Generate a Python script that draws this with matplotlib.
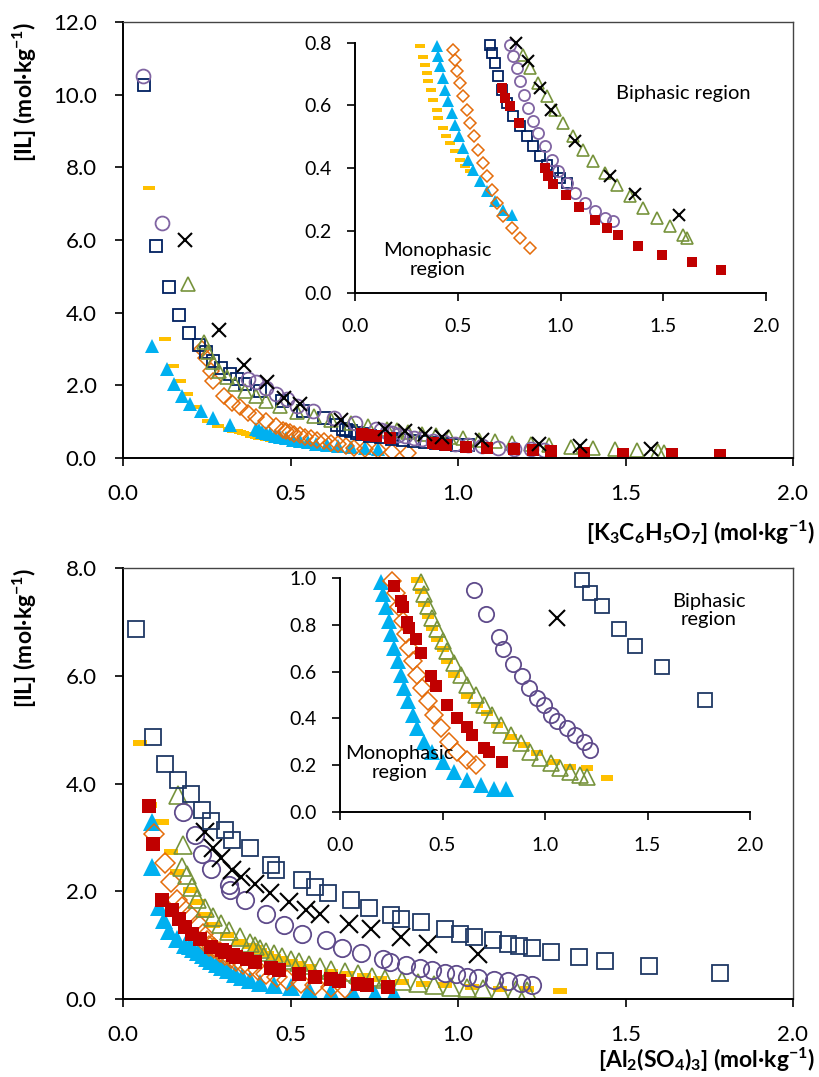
import matplotlib
matplotlib.use("Agg")
import matplotlib.pyplot as plt
from matplotlib.path import Path
from matplotlib.ticker import FormatStrFormatter, MultipleLocator

plt.rcParams['font.family'] = ['Lato', 'DejaVu Sans']
plt.rcParams['mathtext.fontset'] = 'custom'
plt.rcParams['mathtext.rm'] = 'Lato:bold'
plt.rcParams['mathtext.it'] = 'Lato:bold'
plt.rcParams['mathtext.bf'] = 'Lato:bold'
plt.rcParams['mathtext.default'] = 'rm'

# ---- [K3C6H5O7] systems ----
cit_dash_x = [0.079, 0.124, 0.150, 0.169, 0.192, 0.216, 0.255, 0.285, 0.316, 0.329, 0.340, 0.349,
              0.357, 0.370, 0.381, 0.397, 0.405, 0.427, 0.443, 0.462, 0.487, 0.511, 0.535, 0.560]
cit_dash_y = [7.42, 3.28, 2.54, 2.12, 1.76, 1.39, 1.02, 0.88, 0.789, 0.755, 0.731, 0.704,
              0.677, 0.651, 0.619, 0.587, 0.560, 0.528, 0.501, 0.480, 0.453, 0.427, 0.405, 0.389]
cit_tri_x = [0.088, 0.130, 0.153, 0.177, 0.200, 0.232, 0.270, 0.318, 0.397, 0.405, 0.414, 0.427, 0.438,
             0.454, 0.470, 0.487, 0.508, 0.527, 0.552, 0.576, 0.608, 0.641, 0.681, 0.722, 0.762]
cit_tri_y = [3.09, 2.45, 2.03, 1.71, 1.48, 1.29, 1.11, 0.92, 0.789, 0.757, 0.725, 0.688, 0.651,
             0.613, 0.576, 0.539, 0.501, 0.464, 0.427, 0.395, 0.357, 0.325, 0.293, 0.267, 0.251]
cit_dia_x = [0.236, 0.249, 0.263, 0.270, 0.302, 0.325, 0.349, 0.372, 0.396, 0.427, 0.458, 0.478, 0.487,
             0.498, 0.511, 0.527, 0.543, 0.560, 0.579, 0.600, 0.621, 0.641, 0.665, 0.689, 0.722,
             0.762, 0.803, 0.852]
cit_dia_y = [3.00, 2.75, 2.40, 2.12, 1.71, 1.52, 1.39, 1.25, 1.13, 1.02, 0.88, 0.779, 0.747,
             0.709, 0.672, 0.629, 0.587, 0.544, 0.501, 0.459, 0.416, 0.373, 0.331, 0.288, 0.245,
             0.208, 0.176, 0.144]
cit_sq_x = [0.064, 0.099, 0.137, 0.167, 0.197, 0.228, 0.247, 0.270, 0.294, 0.318, 0.341, 0.365, 0.410,
            0.474, 0.537, 0.600, 0.640, 0.657, 0.665, 0.681, 0.698, 0.714, 0.738, 0.770, 0.803,
            0.835, 0.868, 0.900, 0.933, 0.965, 0.998, 1.030]
cit_sq_y = [10.27, 5.84, 4.70, 3.93, 3.44, 3.12, 2.91, 2.68, 2.48, 2.31, 2.17, 2.05, 1.85,
            1.57, 1.29, 1.11, 0.90, 0.795, 0.768, 0.736, 0.693, 0.651, 0.608, 0.565, 0.533,
            0.501, 0.469, 0.437, 0.411, 0.389, 0.368, 0.352]
cit_circ_x = [0.059, 0.117, 0.372, 0.396, 0.427, 0.458, 0.490, 0.520, 0.568, 0.630, 0.693, 0.754,
              0.770, 0.787, 0.803, 0.822, 0.843, 0.868, 0.892, 0.925, 0.957, 0.990, 1.030, 1.071,
              1.119, 1.168, 1.217, 1.257]
cit_circ_y = [10.51, 6.46, 2.17, 2.08, 1.94, 1.76, 1.62, 1.43, 1.29, 1.11, 0.97, 0.795,
              0.757, 0.720, 0.677, 0.635, 0.592, 0.549, 0.512, 0.469, 0.427, 0.389, 0.352, 0.320,
              0.288, 0.261, 0.240, 0.229]
cit_otri_x = [0.193, 0.243, 0.255, 0.270, 0.286, 0.310, 0.333, 0.365, 0.396, 0.427, 0.470, 0.520,
              0.570, 0.620, 0.680, 0.730, 0.787, 0.819, 0.852, 0.892, 0.933, 0.973, 1.014, 1.062,
              1.111, 1.160, 1.217, 1.273, 1.338, 1.403, 1.468, 1.533, 1.598, 1.614]
cit_otri_y = [4.79, 3.19, 2.91, 2.63, 2.40, 2.22, 2.03, 1.85, 1.71, 1.57, 1.42, 1.27,
              1.15, 1.05, 0.95, 0.87, 0.805, 0.763, 0.720, 0.672, 0.629, 0.587, 0.544, 0.501,
              0.459, 0.421, 0.384, 0.347, 0.309, 0.272, 0.240, 0.213, 0.187, 0.176]
cit_fsq_x = [0.714, 0.730, 0.754, 0.798, 0.925, 0.940, 0.965, 1.025, 1.088, 1.168, 1.225, 1.278,
             1.376, 1.492, 1.638, 1.781]
cit_fsq_y = [0.656, 0.624, 0.597, 0.544, 0.400, 0.373, 0.349, 0.315, 0.275, 0.235, 0.208, 0.185,
             0.151, 0.123, 0.098, 0.073]
cit_x_x = [0.185, 0.286, 0.360, 0.430, 0.482, 0.529, 0.650, 0.782, 0.843, 0.900, 0.952, 1.071,
           1.241, 1.363, 1.577]
cit_x_y = [6.00, 3.53, 2.57, 2.10, 1.66, 1.50, 1.05, 0.800, 0.741, 0.656, 0.585, 0.485,
           0.373, 0.318, 0.251]

# ---- [Al2(SO4)3] systems ----
sul_dash_x = [0.051, 0.081, 0.117, 0.142, 0.161, 0.200, 0.223, 0.246, 0.270, 0.309, 0.345, 0.378,
              0.394, 0.410, 0.430, 0.451, 0.475, 0.500, 0.524, 0.556, 0.621, 0.670, 0.719, 0.767,
              0.832, 0.897, 0.962, 1.043, 1.124, 1.205, 1.303]
sul_dash_y = [4.76, 3.60, 3.29, 2.73, 2.36, 2.02, 1.80, 1.55, 1.37, 1.18, 1.05, 0.990,
              0.946, 0.888, 0.838, 0.788, 0.738, 0.695, 0.645, 0.587, 0.494, 0.458, 0.423, 0.372,
              0.322, 0.287, 0.251, 0.215, 0.193, 0.186, 0.146]
sul_tri_x = [0.086, 0.087, 0.106, 0.122, 0.137, 0.161, 0.184, 0.200, 0.208, 0.224, 0.240, 0.251,
             0.264, 0.281, 0.297, 0.313, 0.333, 0.354, 0.378, 0.410, 0.451, 0.500, 0.556, 0.621,
             0.686, 0.751, 0.808]
sul_tri_y = [3.29, 2.45, 1.71, 1.46, 1.27, 1.12, 1.01, 0.981, 0.931, 0.874, 0.817, 0.759,
             0.702, 0.645, 0.587, 0.530, 0.473, 0.415, 0.358, 0.301, 0.258, 0.215, 0.172, 0.136,
             0.115, 0.100, 0.097]
sul_dia_x = [0.094, 0.126, 0.142, 0.161, 0.176, 0.200, 0.223, 0.240, 0.250, 0.256, 0.273, 0.289,
             0.305, 0.321, 0.337, 0.358, 0.378, 0.402, 0.427, 0.459, 0.491, 0.532, 0.573, 0.621,
             0.662]
sul_dia_y = [3.07, 2.52, 2.17, 1.83, 1.71, 1.55, 1.40, 1.20, 1.08, 0.986, 0.938, 0.874,
             0.817, 0.759, 0.702, 0.645, 0.587, 0.530, 0.473, 0.415, 0.358, 0.301, 0.258, 0.222,
             0.200]
sul_sq_x = [0.038, 0.090, 0.125, 0.165, 0.202, 0.235, 0.264, 0.304, 0.326, 0.380, 0.441, 0.457,
            0.535, 0.574, 0.613, 0.680, 0.733, 0.800, 0.831, 0.890, 0.960, 1.005, 1.049, 1.104,
            1.150, 1.181, 1.221, 1.278, 1.361, 1.439, 1.571, 1.782]
sul_sq_y = [6.86, 4.86, 4.36, 4.06, 3.80, 3.51, 3.31, 3.14, 2.96, 2.80, 2.48, 2.39,
            2.20, 2.08, 1.96, 1.83, 1.68, 1.55, 1.49, 1.43, 1.30, 1.21, 1.15, 1.09,
            1.02, 0.991, 0.938, 0.881, 0.780, 0.710, 0.620, 0.480]
sul_circ_x = [0.178, 0.215, 0.235, 0.262, 0.316, 0.320, 0.363, 0.426, 0.480, 0.535, 0.605, 0.654,
              0.710, 0.775, 0.796, 0.845, 0.886, 0.921, 0.962, 0.994, 1.027, 1.059, 1.108, 1.148,
              1.189, 1.221]
sul_circ_y = [3.47, 3.04, 2.70, 2.42, 2.11, 2.02, 1.83, 1.58, 1.37, 1.21, 1.09, 0.948,
              0.845, 0.748, 0.695, 0.633, 0.580, 0.530, 0.487, 0.458, 0.415, 0.387, 0.358, 0.330,
              0.301, 0.265]
sul_otri_x = [0.163, 0.179, 0.176, 0.192, 0.207, 0.220, 0.246, 0.270, 0.293, 0.316, 0.348, 0.378,
              0.394, 0.410, 0.427, 0.451, 0.475, 0.500, 0.524, 0.556, 0.589, 0.621, 0.662, 0.702,
              0.743, 0.783, 0.832, 0.881, 0.929, 0.978, 1.027, 1.075, 1.124, 1.173, 1.205]
sul_otri_y = [3.78, 2.86, 2.45, 2.30, 2.08, 1.86, 1.68, 1.52, 1.40, 1.27, 1.15, 1.04,
              0.981, 0.931, 0.881, 0.831, 0.781, 0.731, 0.688, 0.638, 0.587, 0.544, 0.501, 0.458,
              0.415, 0.372, 0.330, 0.294, 0.258, 0.229, 0.208, 0.186, 0.172, 0.158, 0.150]
sul_fsq_x = [0.077, 0.090, 0.117, 0.145, 0.168, 0.184, 0.207, 0.231, 0.264, 0.297, 0.305, 0.329,
             0.337, 0.370, 0.394, 0.443, 0.467, 0.524, 0.573, 0.621, 0.646, 0.702, 0.727, 0.792]
sul_fsq_y = [3.59, 2.88, 1.83, 1.65, 1.49, 1.34, 1.21, 1.12, 0.967, 0.903, 0.874, 0.810,
             0.788, 0.738, 0.681, 0.580, 0.537, 0.458, 0.401, 0.365, 0.330, 0.272, 0.258, 0.215]
sul_x_x = [0.244, 0.268, 0.293, 0.324, 0.351, 0.394, 0.438, 0.496, 0.547, 0.589, 0.675, 0.740,
           0.831, 0.909, 1.059]
sul_x_y = [3.10, 2.80, 2.61, 2.39, 2.27, 2.14, 1.96, 1.80, 1.66, 1.58, 1.40, 1.30,
           1.15, 1.02, 0.831]

# short horizontal bar marker
bar = Path([(-1, -0.42), (1, -0.42), (1, 0.42), (-1, 0.42), (-1, -0.42)],
           [Path.MOVETO, Path.LINETO, Path.LINETO, Path.LINETO, Path.CLOSEPOLY])


def styles(sq_col, circ_col):
    return {
        "dash": dict(marker=bar, color="#FFC000", mew=0, filled=True, scale=0.85),
        "tri": dict(marker="^", color="#00B0F0", mew=0, filled=True, scale=1.05),
        "dia": dict(marker="D", color="#E46C0A", mew=1.1, filled=False, scale=0.8),
        "sq": dict(marker="s", color=sq_col, mew=1.3, filled=False, scale=0.9),
        "circ": dict(marker="o", color=circ_col, mew=1.3, filled=False, scale=1.0),
        "otri": dict(marker="^", color="#77933C", mew=1.2, filled=False, scale=1.0),
        "fsq": dict(marker="s", color="#C00000", mew=0, filled=True, scale=0.85),
        "x": dict(marker="x", color="black", mew=1.5, filled=False, scale=1.0),
    }


def draw(ax, series, st, ms, ymax=None):
    for key, (xs, ys) in series.items():
        s = st[key]
        if ymax is not None:
            # the inset only carries the points inside its own range
            pts = [(a, b) for a, b in zip(xs, ys) if b <= ymax + 1e-6]
            xs = [p[0] for p in pts]
            ys = [p[1] for p in pts]
        ax.plot(xs, ys, linestyle="none", marker=s["marker"], markersize=ms * s["scale"],
                markeredgewidth=s["mew"], markeredgecolor=s["color"],
                markerfacecolor=s["color"] if s["filled"] else "none",
                clip_on=ymax is None)


def style_axes(ax, ymax, ystep, fs, xpad, ypad, box=True):
    ax.set_xlim(0, 2.0)
    ax.set_ylim(0, ymax)
    ax.xaxis.set_major_locator(MultipleLocator(0.5))
    ax.yaxis.set_major_locator(MultipleLocator(ystep))
    ax.xaxis.set_major_formatter(FormatStrFormatter("%.1f"))
    ax.yaxis.set_major_formatter(FormatStrFormatter("%.1f"))
    ax.tick_params(direction="out", length=6, width=1.2, labelsize=fs)
    ax.tick_params(axis="x", pad=xpad)
    ax.tick_params(axis="y", pad=ypad)
    for side in ("left", "bottom"):
        ax.spines[side].set_linewidth(1.4)
    if box:
        for side in ("top", "right"):
            ax.spines[side].set_linewidth(1.0)
            ax.spines[side].set_color("#444444")
    else:
        ax.spines["top"].set_visible(False)
        ax.spines["right"].set_visible(False)


def labels(ax, xtext, xlab_y):
    ax.set_xlabel(xtext, fontsize=16.5, fontweight="bold", ha="right", va="center")
    ax.xaxis.set_label_coords(1.033, xlab_y)
    ax.set_ylabel(r"[IL] (mol·kg$^{-1}$)", fontsize=16.5, fontweight="bold",
                  ha="right", va="center")
    ax.yaxis.set_label_coords(-0.147, 1.0)


cit = {"dash": (cit_dash_x, cit_dash_y), "tri": (cit_tri_x, cit_tri_y),
       "dia": (cit_dia_x, cit_dia_y), "sq": (cit_sq_x, cit_sq_y),
       "otri": (cit_otri_x, cit_otri_y), "circ": (cit_circ_x, cit_circ_y),
       "fsq": (cit_fsq_x, cit_fsq_y), "x": (cit_x_x, cit_x_y)}
sul = {"dash": (sul_dash_x, sul_dash_y), "tri": (sul_tri_x, sul_tri_y),
       "dia": (sul_dia_x, sul_dia_y), "otri": (sul_otri_x, sul_otri_y),
       "fsq": (sul_fsq_x, sul_fsq_y), "circ": (sul_circ_x, sul_circ_y),
       "x": (sul_x_x, sul_x_y), "sq": (sul_sq_x, sul_sq_y)}

W, H = 819, 1077
fig = plt.figure(figsize=(W / 100, H / 100), dpi=100)


def rect(l, t, r, b):
    return [l / W, 1 - b / H, (r - l) / W, (b - t) / H]


# top panel
st_top = styles("#002060", "#8064A2")
ax1 = fig.add_axes(rect(123, 22, 793, 458))
draw(ax1, cit, st_top, 10)
style_axes(ax1, 12.0, 2.0, 16, 13, 13)
labels(ax1, r"[K$_3$C$_6$H$_5$O$_7$] (mol·kg$^{-1}$)", -0.172)

in1 = fig.add_axes(rect(355, 43, 766, 293))
in1.set_facecolor("none")
draw(in1, cit, st_top, 8, ymax=0.8)
style_axes(in1, 0.8, 0.2, 14, 12, 11, box=False)
in1.text(1.60, 0.64, "Biphasic region", fontsize=14.5, ha="center", va="center")
in1.text(0.40, 0.105, "Monophasic\nregion", fontsize=14.5, ha="center", va="center",
         linespacing=1.1)

# bottom panel
st_bot = styles("#1F3864", "#5F4B8B")
ax2 = fig.add_axes(rect(123, 568, 793, 999))
draw(ax2, sul, st_bot, 12.5)
style_axes(ax2, 8.0, 2.0, 16, 13, 13)
labels(ax2, r"[Al$_2$(SO$_4$)$_3$] (mol·kg$^{-1}$)", -0.142)

in2 = fig.add_axes(rect(340, 578, 750, 812))
in2.set_facecolor("none")
draw(in2, sul, st_bot, 11, ymax=1.0)
style_axes(in2, 1.0, 0.2, 14, 12, 11, box=False)
in2.text(1.80, 0.86, "Biphasic\nregion", fontsize=14.5, ha="center", va="center",
         linespacing=1.1)
in2.text(0.29, 0.21, "Monophasic\nregion", fontsize=14.5, ha="center", va="center",
         linespacing=1.1)

fig.savefig("out.png", dpi=100, facecolor="white")
